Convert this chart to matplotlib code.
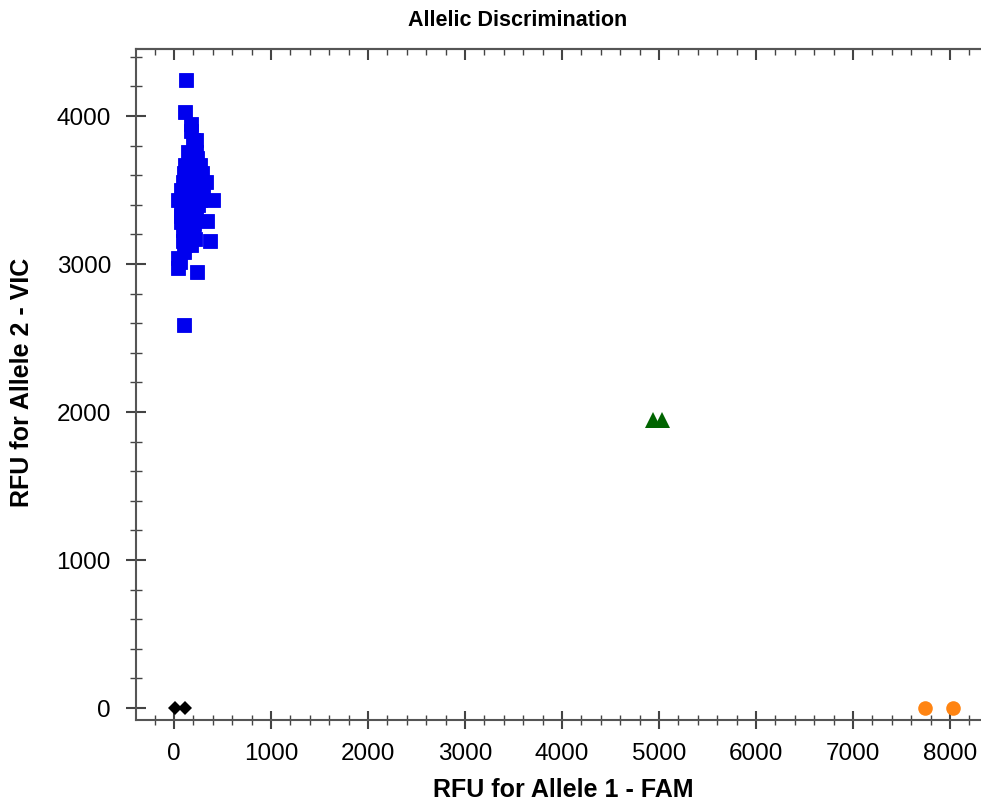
import matplotlib
matplotlib.use("Agg")
import matplotlib.pyplot as plt
from matplotlib.ticker import MultipleLocator

plt.rcParams['font.family'] = ['Liberation Sans', 'DejaVu Sans']

# Allele 2 homozygous (blue squares)
vic_x = [121, 113, 170, 180, 191, 222, 139, 222, 150, 240,
         108, 186, 263, 100, 200, 290, 88, 206, 325, 75,
         180, 300, 36, 165, 268, 397, 67, 222, 67, 206,
         345, 67, 206, 88, 200, 88, 216, 366, 108, 170,
         100, 36, 57, 36, 242, 103, 130, 240, 130, 150,
         250, 140, 120, 230]
vic_y = [4243, 4024, 3943, 3899, 3835, 3835, 3757, 3757, 3716, 3716,
         3669, 3669, 3669, 3615, 3615, 3615, 3554, 3554, 3554, 3500,
         3500, 3500, 3436, 3436, 3436, 3436, 3365, 3365, 3324, 3324,
         3290, 3284, 3270, 3230, 3230, 3155, 3170, 3155, 3128, 3128,
         3081, 3040, 3014, 2973, 2949, 2591, 3580, 3580, 3400, 3200,
         3400, 3300, 3470, 3470]

# Heterozygous (green triangles)
het_x = [4942, 5028]
het_y = [1946, 1946]

# Allele 1 homozygous (orange circles)
fam_x = [7742, 8031]
fam_y = [0, 0]

# No template control (black diamonds)
ntc_x = [10, 113]
ntc_y = [0, 0]

fig = plt.figure(figsize=(9.81, 8.05), dpi=100)
W, H = 981, 805
ax = fig.add_axes([136 / W, 1 - 720 / H, (990 - 136) / W, (720 - 49) / H])

ax.plot(vic_x, vic_y, 's', color='#0000EE', ms=10.5, mew=0.6, mec='#0000EE')
ax.plot(het_x, het_y, '^', color='#006400', ms=11, mew=0)
ax.plot(fam_x, fam_y, 'o', color='#FF8412', ms=10.5, mew=0)
ax.plot(ntc_x, ntc_y, 'D', color='black', ms=7, mew=0)

ax.set_xlim(-392, 8412)
ax.set_ylim(-81, 4453)

ax.xaxis.set_major_locator(MultipleLocator(1000))
ax.xaxis.set_minor_locator(MultipleLocator(200))
ax.yaxis.set_major_locator(MultipleLocator(1000))
ax.yaxis.set_minor_locator(MultipleLocator(200))

for s in ['left', 'bottom', 'top']:
    ax.spines[s].set_color('#555555')
    ax.spines[s].set_linewidth(1.5)
ax.spines['right'].set_visible(False)

ax.tick_params(axis='x', which='major', direction='inout', length=13, width=1.5,
               color='#444444', labelsize=17.5, pad=10)
ax.tick_params(axis='x', which='minor', direction='inout', length=7, width=1, color='#444444')
ax.tick_params(axis='y', which='major', direction='inout', length=14, width=1.5,
               color='#444444', labelsize=17.5, pad=11)
ax.tick_params(axis='y', which='minor', direction='inout', length=9, width=1, color='#444444')

top = ax.secondary_xaxis('top')
top.xaxis.set_major_locator(MultipleLocator(1000))
top.xaxis.set_minor_locator(MultipleLocator(200))
top.tick_params(which='major', direction='in', length=8, width=1.5, color='#444444', labeltop=False)
top.tick_params(which='minor', direction='in', length=4, width=1, color='#444444')
top.spines['top'].set_color('#555555')
top.spines['top'].set_linewidth(1.5)

fig.text(518 / W, 1 - 20 / H, 'Allelic Discrimination', ha='center', va='center',
         fontsize=15.5, fontweight='bold')
fig.text(563 / W, 1 - 790 / H, 'RFU for Allele 1 - FAM', ha='center', va='center',
         fontsize=18, fontweight='bold')
fig.text(22 / W, 1 - 382 / H, 'RFU for Allele 2 - VIC', ha='center', va='center',
         rotation=90, fontsize=18, fontweight='bold')

fig.savefig('out.png', dpi=100)
